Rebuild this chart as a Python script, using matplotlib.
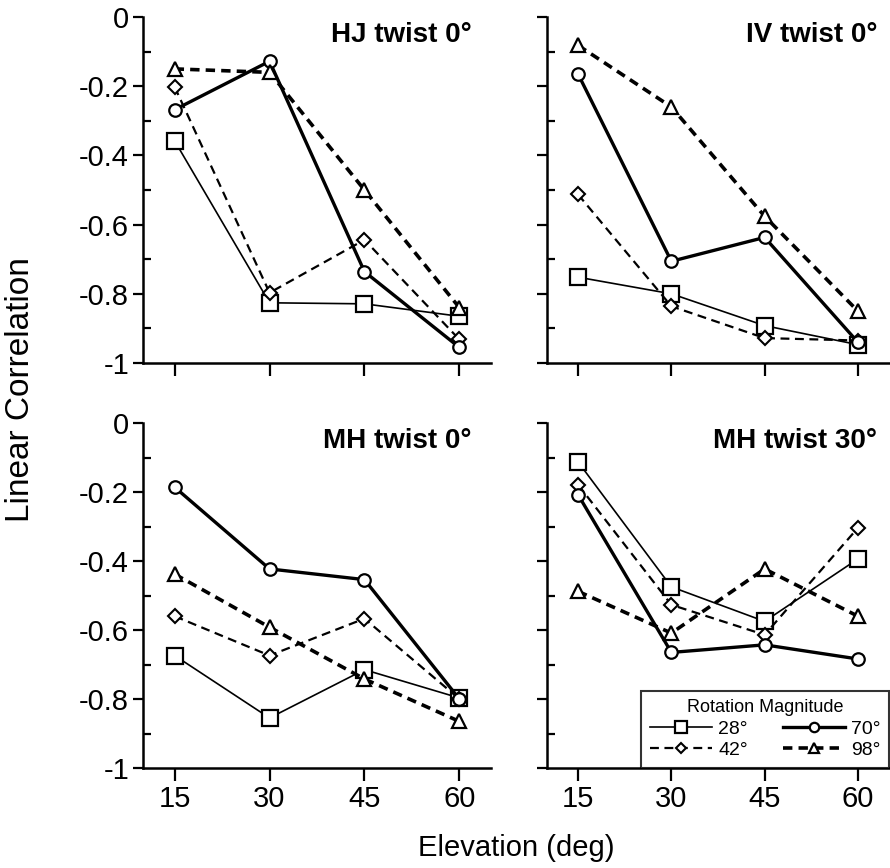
import matplotlib
matplotlib.use("Agg")
import matplotlib.pyplot as plt
from matplotlib.ticker import MultipleLocator

plt.rcParams['font.family'] = ['Liberation Sans', 'DejaVu Sans']

elevation = [15, 30, 45, 60]
magnitudes = ["28°", "42°", "70°", "98°"]
panel_titles = ["HJ twist 0°", "IV twist 0°", "MH twist 0°", "MH twist 30°"]

hj0_28 = [-0.358, -0.826, -0.829, -0.865]
hj0_42 = [-0.202, -0.797, -0.644, -0.932]
hj0_70 = [-0.268, -0.128, -0.736, -0.955]
hj0_98 = [-0.150, -0.160, -0.500, -0.840]

iv0_28 = [-0.752, -0.800, -0.892, -0.947]
iv0_42 = [-0.513, -0.836, -0.928, -0.935]
iv0_70 = [-0.165, -0.706, -0.637, -0.940]
iv0_98 = [-0.082, -0.260, -0.576, -0.850]

mh0_28 = [-0.674, -0.855, -0.715, -0.797]
mh0_42 = [-0.560, -0.674, -0.567, -0.800]
mh0_70 = [-0.186, -0.423, -0.454, -0.800]
mh0_98 = [-0.438, -0.592, -0.742, -0.865]

mh30_28 = [-0.113, -0.475, -0.575, -0.394]
mh30_42 = [-0.179, -0.527, -0.614, -0.304]
mh30_70 = [-0.208, -0.665, -0.643, -0.684]
mh30_98 = [-0.488, -0.609, -0.423, -0.560]

panels = [
    [hj0_28, hj0_42, hj0_70, hj0_98],
    [iv0_28, iv0_42, iv0_70, iv0_98],
    [mh0_28, mh0_42, mh0_70, mh0_98],
    [mh30_28, mh30_42, mh30_70, mh30_98],
]

yticks = [0, -0.2, -0.4, -0.6, -0.8, -1]
ytick_labels = ["0", "-0.2", "-0.4", "-0.6", "-0.8", "-1"]

styles = [
    dict(marker='s', ms=11, lw=1.2, ls='-', mew=1.6),
    dict(marker='D', ms=7, lw=1.6, ls=(0, (4, 2.5)), mew=1.5),
    dict(marker='o', ms=9, lw=2.4, ls='-', mew=1.6),
    dict(marker='^', ms=9.5, lw=2.6, ls=(0, (2.6, 1.7)), mew=1.6),
]

fig = plt.figure(figsize=(8.9, 8.68), dpi=100)
W, H = 890, 868
def pos(l, r, t, b):
    return [l / W, 1 - b / H, (r - l) / W, (b - t) / H]

rects = [pos(143, 491, 17, 363), pos(547, 889, 17, 363),
         pos(143, 491, 423, 768), pos(547, 889, 423, 768)]

axes = []
for i, (rect, title, series) in enumerate(zip(rects, panel_titles, panels)):
    ax = fig.add_axes(rect)
    axes.append(ax)
    for vals, lab, st in zip(series, magnitudes, styles):
        ax.plot(elevation, vals, color='black', marker=st['marker'], ms=st['ms'],
                lw=st['lw'], ls=st['ls'], mfc='white', mec='black', mew=st['mew'],
                label=lab, clip_on=False, zorder=3)
    ax.set_xlim(10, 65)
    ax.set_ylim(-1, 0)
    for s in ['top', 'right']:
        ax.spines[s].set_visible(False)
    for s in ['left', 'bottom']:
        ax.spines[s].set_linewidth(1.8)
    ax.set_xticks(elevation)
    ax.set_yticks(yticks)
    ax.yaxis.set_minor_locator(MultipleLocator(0.1))
    ax.tick_params(axis='y', which='major', direction='out', length=7, width=1.6,
                   labelsize=21, pad=3)
    ax.tick_params(axis='x', which='major', direction='out', length=9, width=1.6,
                   labelsize=21, pad=3)
    ax.tick_params(axis='y', which='minor', direction='in', length=6, width=1.6)
    if i % 2 == 0:
        ax.set_yticklabels(ytick_labels)
    else:
        ax.set_yticklabels([])
    if i >= 2:
        ax.set_xticklabels([str(e) for e in elevation])
    else:
        ax.set_xticklabels([])
    xr = 0.945 if i % 2 == 0 else 0.965
    ax.text(xr, 0.985, title, transform=ax.transAxes, ha='right', va='top',
            fontsize=20, fontweight='bold')

leg = axes[3].legend(ncol=2, loc='lower right', bbox_to_anchor=(1.0, 0.0),
                     title="Rotation Magnitude", fontsize=14, title_fontsize=13,
                     frameon=True, fancybox=False, edgecolor='black',
                     handlelength=3.2, handletextpad=0.3, columnspacing=1.8,
                     borderpad=0.45, labelspacing=0.2, borderaxespad=0.0)
leg.get_frame().set_linewidth(1.5)
for h in leg.legend_handles:
    h.set_markersize(h.get_markersize() * 0.75)

fig.text(516 / W, 1 - 848 / H, "Elevation (deg)", ha='center', va='center', fontsize=21)
fig.text(21 / W, 1 - 390 / H, "Linear Correlation", ha='center', va='center',
         rotation=90, fontsize=24)

fig.savefig("out.png", dpi=100)
